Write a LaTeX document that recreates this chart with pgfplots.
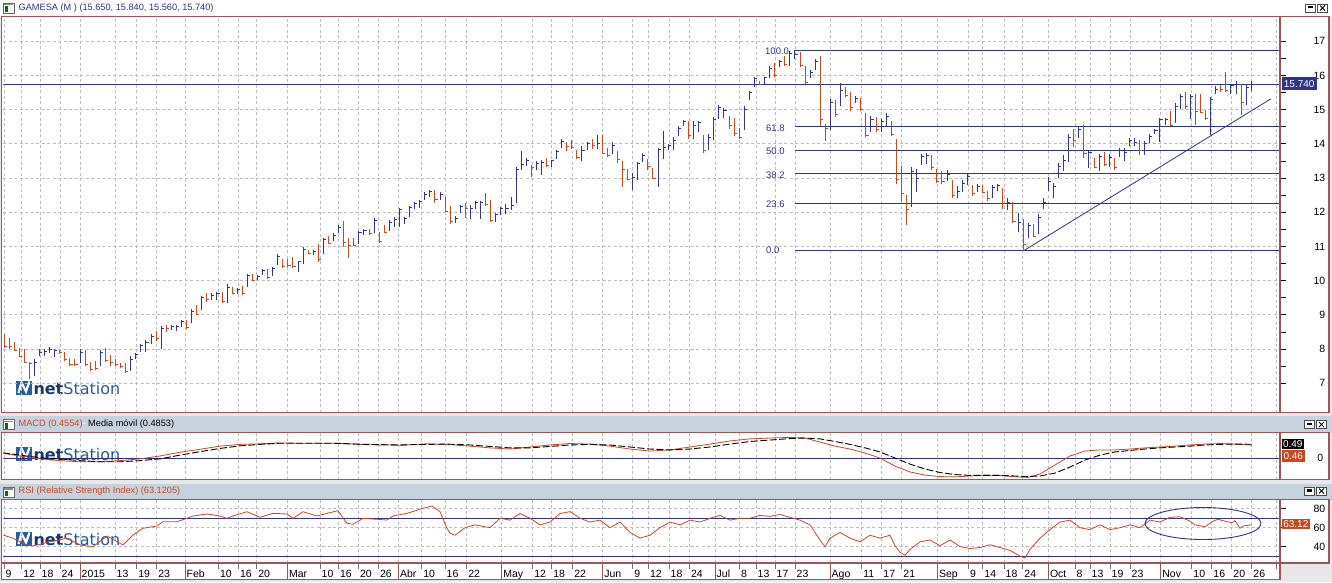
\documentclass[border=0pt]{standalone}
\usepackage{fontspec}
\setmainfont{Liberation Sans}
\newfontfamily\logofont{DejaVu Sans}
\usepackage{pgfplots}
\usepackage{pgfplotstable}
\usetikzlibrary{calc}
\pgfplotsset{compat=1.18}
\definecolor{navy}{RGB}{46,52,135}
\definecolor{barblue}{RGB}{48,56,140}
\definecolor{barred}{RGB}{208,70,28}
\definecolor{framec}{RGB}{160,84,84}
\definecolor{gridc}{RGB}{190,190,190}
\definecolor{titlebg}{RGB}{198,210,222}
\definecolor{logoblue}{RGB}{38,92,160}
\definecolor{logodark}{RGB}{22,56,112}
\definecolor{bgc}{RGB}{232,232,232}

\pgfdeclareplotmark{ctick}{\pgfpathmoveto{\pgfqpoint{0pt}{0pt}}\pgfpathlineto{\pgfqpoint{2.6pt}{0pt}}\pgfusepathqstroke}

\pgfplotstableread{
i o h l c
0 8.42 8.44 8.03 8.07
1 8.30 8.32 8.00 8.07
2 8.20 8.21 7.94 7.96
3 8.02 8.03 7.77 7.78
4 7.98 8.00 7.60 7.62
5 7.60 7.63 7.13 7.57
6 7.30 7.72 7.21 7.60
7 7.82 7.99 7.79 7.91
8 7.85 8.00 7.81 7.92
9 7.92 8.06 7.89 7.98
10 7.80 7.99 7.76 7.95
11 7.95 7.96 7.87 7.90
12 7.90 7.92 7.65 7.70
13 7.72 7.74 7.52 7.55
14 7.70 7.72 7.50 7.55
15 7.65 7.99 7.60 7.90
16 7.95 7.96 7.50 7.55
17 7.60 7.62 7.36 7.40
18 7.62 7.65 7.38 7.42
19 7.56 7.96 7.52 7.90
20 8.00 8.03 7.62 7.68
21 7.82 7.84 7.52 7.60
22 7.68 7.70 7.52 7.56
23 7.58 7.60 7.45 7.48
24 7.55 7.58 7.31 7.35
25 7.40 7.79 7.36 7.70
26 7.75 7.89 7.70 7.85
27 7.95 8.15 7.91 8.10
28 7.95 8.26 7.92 8.18
29 8.20 8.45 8.16 8.38
30 8.52 8.54 8.25 8.32
31 8.05 8.68 8.00 8.60
32 8.68 8.70 8.49 8.60
33 8.58 8.70 8.55 8.65
34 8.55 8.69 8.52 8.65
35 8.67 8.85 8.64 8.80
36 8.82 8.85 8.58 8.62
37 8.80 9.17 8.76 9.10
38 9.27 9.29 9.00 9.02
39 9.15 9.55 9.13 9.50
40 9.62 9.65 9.39 9.45
41 9.45 9.63 9.43 9.58
42 9.50 9.68 9.45 9.62
43 9.65 9.68 9.34 9.40
44 9.38 9.90 9.34 9.80
45 9.80 9.82 9.60 9.63
46 9.62 9.80 9.60 9.75
47 9.82 9.84 9.58 9.62
48 9.85 10.20 9.82 10.15
49 10.18 10.20 9.99 10.02
50 10.03 10.18 10.01 10.12
51 10.18 10.35 10.16 10.30
52 10.33 10.35 10.04 10.10
53 10.15 10.40 10.13 10.35
54 10.50 10.79 10.45 10.70
55 10.60 10.62 10.37 10.42
56 10.62 10.64 10.40 10.45
57 10.67 10.69 10.37 10.42
58 10.30 10.59 10.26 10.55
59 10.52 10.98 10.48 10.90
60 10.88 10.90 10.77 10.80
61 10.76 10.90 10.74 10.85
62 11.00 11.06 10.55 10.62
63 10.85 11.24 10.79 11.20
64 11.28 11.30 11.07 11.08
65 11.20 11.38 11.17 11.33
66 11.40 11.63 11.38 11.55
67 11.70 11.75 10.99 11.12
68 11.24 11.26 10.67 11.03
69 11.24 11.26 11.00 11.02
70 11.10 11.45 11.07 11.40
71 11.36 11.51 11.33 11.48
72 11.50 11.51 11.35 11.38
73 11.45 11.82 11.40 11.75
74 11.40 11.42 11.10 11.15
75 11.60 11.62 11.40 11.42
76 11.50 11.77 11.46 11.70
77 11.60 11.85 11.58 11.80
78 11.62 12.14 11.58 12.08
79 11.70 11.87 11.66 11.82
80 11.90 12.19 11.87 12.13
81 12.12 12.30 12.09 12.25
82 12.15 12.36 12.12 12.32
83 12.40 12.58 12.36 12.52
84 12.47 12.66 12.44 12.60
85 12.62 12.64 12.26 12.38
86 12.40 12.58 12.36 12.52
87 12.44 12.46 12.02 12.03
88 12.15 12.17 11.66 11.72
89 11.72 11.89 11.70 11.82
90 12.00 12.22 11.99 12.18
91 12.24 12.26 11.82 12.10
92 11.85 12.22 11.80 12.10
93 12.12 12.34 12.09 12.28
94 11.85 12.34 11.80 12.30
95 12.54 12.56 12.19 12.22
96 12.34 12.36 11.72 11.76
97 11.75 11.99 11.72 11.95
98 11.95 12.15 11.92 12.10
99 12.00 12.25 11.95 12.10
100 12.10 12.44 12.07 12.20
101 12.30 13.32 12.28 13.25
102 13.26 13.80 13.23 13.40
103 13.36 13.60 13.34 13.52
104 13.36 13.37 13.02 13.30
105 13.28 13.51 13.25 13.43
106 13.15 13.54 13.10 13.45
107 13.57 13.59 13.31 13.38
108 13.35 13.54 13.31 13.50
109 13.58 13.83 13.56 13.78
110 13.90 14.13 13.88 14.08
111 14.04 14.06 13.80 13.93
112 14.09 14.11 13.86 13.90
113 13.80 13.83 13.56 13.60
114 13.55 13.95 13.49 13.80
115 13.85 14.06 13.83 14.02
116 14.10 14.13 13.85 13.95
117 13.90 14.27 13.86 14.00
118 14.20 14.25 13.71 13.73
119 13.86 13.88 13.62 13.65
120 13.75 14.06 13.71 13.95
121 13.76 13.78 13.44 13.55
122 13.48 13.51 12.75 13.25
123 13.24 13.26 12.93 12.96
124 12.70 13.15 12.66 13.02
125 12.97 13.47 12.93 13.42
126 13.48 13.74 13.46 13.65
127 13.55 13.57 13.25 13.35
128 13.27 13.29 12.98 13.00
129 12.80 13.88 12.75 13.85
130 13.60 14.38 13.55 13.90
131 13.83 14.00 13.81 13.95
132 13.85 14.20 13.81 14.10
133 14.25 14.51 14.22 14.45
134 14.53 14.71 14.51 14.65
135 14.64 14.66 14.13 14.25
136 14.20 14.67 14.13 14.55
137 14.40 14.66 14.35 14.62
138 14.23 14.25 13.73 13.80
139 13.85 14.28 13.81 14.20
140 14.15 14.80 14.10 14.70
141 14.75 15.14 14.72 15.05
142 14.80 15.05 14.76 14.97
143 14.80 14.83 14.44 14.55
144 14.73 14.75 14.22 14.30
145 14.45 14.47 14.13 14.20
146 14.45 15.10 14.41 15.00
147 15.30 15.56 15.27 15.50
148 15.70 15.97 15.66 15.90
149 15.83 15.85 15.71 15.73
150 15.75 15.97 15.73 15.93
151 15.97 16.27 15.93 16.20
152 16.33 16.36 15.95 16.00
153 16.30 16.46 16.26 16.40
154 16.54 16.56 16.29 16.32
155 16.32 16.73 16.27 16.65
156 16.52 16.74 16.49 16.60
157 16.65 16.68 16.24 16.30
158 16.25 16.27 15.76 15.80
159 15.95 16.15 15.92 16.10
160 16.18 16.47 16.15 16.40
161 16.55 16.58 14.51 14.70
162 14.57 14.59 14.08 14.45
163 14.45 15.32 14.41 15.20
164 15.27 15.29 14.80 14.85
165 15.15 15.78 15.12 15.55
166 15.64 15.66 15.37 15.42
167 15.49 15.51 14.96 15.05
168 15.22 15.39 15.19 15.32
169 15.33 15.35 14.96 15.00
170 14.88 14.90 14.20 14.25
171 14.40 14.83 14.35 14.70
172 14.78 14.80 14.35 14.42
173 14.40 14.74 14.35 14.65
174 14.55 14.90 14.51 14.80
175 14.65 14.67 14.22 14.27
176 14.10 14.13 12.84 12.95
177 13.30 13.34 12.32 12.55
178 12.48 12.50 11.64 12.08
179 12.20 13.31 12.16 13.20
180 12.65 13.28 12.60 13.00
181 13.42 13.70 13.39 13.62
182 13.45 13.72 13.40 13.65
183 13.66 13.68 13.25 13.30
184 13.26 13.28 12.86 12.90
185 13.18 13.20 12.84 12.90
186 12.95 13.23 12.91 13.10
187 12.92 12.94 12.43 12.50
188 12.47 12.77 12.43 12.62
189 12.63 12.94 12.60 12.85
190 12.82 13.15 12.79 13.05
191 12.77 12.79 12.48 12.55
192 12.63 12.84 12.60 12.75
193 12.77 12.79 12.55 12.58
194 12.60 12.62 12.33 12.40
195 12.47 12.80 12.43 12.72
196 12.66 12.83 12.63 12.78
197 12.70 12.72 12.10 12.25
198 12.10 12.43 12.07 12.30
199 12.27 12.29 11.68 11.72
200 11.45 11.99 11.41 11.70
201 11.78 11.80 10.88 11.05
202 11.28 11.68 11.24 11.60
203 11.63 11.65 11.27 11.30
204 11.40 11.95 11.37 11.85
205 12.12 12.41 12.10 12.30
206 12.68 13.04 12.63 12.90
207 12.45 12.87 12.41 12.75
208 13.03 13.43 12.99 13.35
209 13.25 13.67 13.20 13.50
210 13.52 14.30 13.48 14.20
211 14.40 14.43 13.91 14.10
212 14.22 14.50 14.18 14.42
213 14.52 14.54 13.60 13.73
214 13.35 13.82 13.30 13.75
215 13.58 13.60 13.30 13.32
216 13.25 13.69 13.21 13.62
217 13.73 13.75 13.35 13.40
218 13.35 13.69 13.31 13.60
219 13.58 13.60 13.23 13.30
220 13.65 13.89 13.62 13.80
221 13.55 13.89 13.50 13.75
222 13.95 14.16 13.93 14.10
223 13.97 14.16 13.94 14.05
224 14.09 14.11 13.67 13.80
225 13.70 14.08 13.67 14.00
226 14.06 14.30 14.03 14.22
227 14.30 14.45 14.28 14.40
228 14.10 14.77 14.06 14.70
229 14.57 14.77 14.54 14.70
230 14.94 14.96 14.52 14.55
231 14.65 15.19 14.61 15.10
232 15.08 15.47 15.03 15.40
233 15.51 15.53 15.01 15.10
234 14.78 15.45 14.72 15.40
235 15.43 15.45 14.56 14.95
236 15.43 15.45 14.90 14.92
237 14.98 15.00 14.69 14.75
238 14.30 15.37 14.25 15.30
239 15.50 15.68 15.47 15.60
240 15.69 15.71 15.51 15.60
241 16.05 16.10 15.51 15.55
242 15.48 15.74 15.45 15.70
243 15.50 15.85 15.47 15.75
244 15.72 15.74 14.85 15.20
245 15.20 15.71 15.15 15.65
246 15.65 15.84 15.56 15.74
}\bars

\pgfplotstableread{
x m
3 0.17
20 0.08
40 -0.02
60 -0.08
80 -0.12
100 -0.12
120 -0.08
140 -0.02
160 0.08
180 0.21
200 0.31
220 0.42
240 0.48
260 0.50
280 0.53
300 0.52
333 0.52
367 0.47
400 0.45
427 0.50
447 0.48
470 0.42
490 0.36
510 0.32
530 0.39
550 0.46
570 0.51
590 0.49
610 0.42
630 0.32
650 0.25
670 0.29
690 0.39
710 0.49
730 0.60
750 0.67
770 0.70
790 0.72
805 0.70
820 0.56
835 0.42
850 0.32
865 0.18
880 0.01
895 -0.27
910 -0.47
925 -0.58
940 -0.63
955 -0.64
970 -0.61
985 -0.58
1000 -0.59
1015 -0.64
1028 -0.66
1040 -0.54
1055 -0.23
1070 0.08
1085 0.25
1100 0.29
1115 0.29
1130 0.32
1145 0.36
1160 0.39
1175 0.42
1190 0.46
1205 0.49
1220 0.51
1235 0.49
1252 0.455
}\macd

\pgfplotstableread{
x s
3 0.19
20 0.11
40 0.02
60 -0.02
80 -0.08
100 -0.12
120 -0.12
140 -0.08
160 -0.02
180 0.11
200 0.23
220 0.34
240 0.43
260 0.48
280 0.52
300 0.52
333 0.52
367 0.48
400 0.46
427 0.48
447 0.49
470 0.46
490 0.41
510 0.36
530 0.36
550 0.41
570 0.46
590 0.48
610 0.46
630 0.39
650 0.32
670 0.29
690 0.32
710 0.39
730 0.49
750 0.58
770 0.63
790 0.68
805 0.70
820 0.67
835 0.58
850 0.48
865 0.36
880 0.22
895 0.01
910 -0.20
925 -0.37
940 -0.49
955 -0.56
970 -0.59
985 -0.59
1000 -0.59
1015 -0.61
1028 -0.63
1040 -0.61
1055 -0.51
1070 -0.30
1085 -0.06
1100 0.11
1115 0.22
1130 0.27
1145 0.32
1160 0.36
1175 0.39
1190 0.42
1205 0.46
1220 0.48
1235 0.49
1252 0.485
}\signal

\pgfplotstableread{
x r
3 52.3
13 48.8
27 41.7
33 40.6
50 45.2
67 48.8
80 41.7
93 39.9
107 51.2
123 41.7
133 52.3
143 59.4
157 61.8
163 66.4
177 66.4
187 69.9
193 72.4
207 74.5
220 72.4
227 69.9
233 72.4
247 76.9
260 71.0
273 75.2
287 74.5
293 69.9
303 76.9
317 72.4
327 75.2
338 78.0
347 64.7
353 63.6
363 69.9
377 68.9
387 68.1
393 72.4
407 75.2
423 80.5
432 83.0
440 76.9
447 59.4
450 54.1
455 52
465 60
475 63
490 60
500 70
510 68
520 75
530 70
540 63
550 66
560 75
570 77
580 70
590 66
600 68
610 60
620 66
630 55
640 49
650 52
660 60
670 66
680 63
690 68
700 66
710 70
720 73
730 68
740 70
750 70
760 73
770 72
780 74
790 71
800 68
810 63
820 47
825 40
830 49
840 55
850 49
860 45
870 52
880 49
890 52
895 41
900 34
905 31
910 37
915 41
920 45
930 47
940 41
950 47
960 40
970 38
980 39
990 42
1000 39
1010 36
1020 30
1025 28
1030 37
1040 49
1050 58
1060 66
1070 68
1080 60
1090 58
1100 63
1110 58
1120 60
1130 63
1140 60
1150 68
1160 66
1170 71
1180 71.6
1190 67
1195 63
1205 61
1212 66.4
1218 68.9
1227 66.4
1232 65.3
1235 67.4
1240 59.4
1243 61.8
1252 63.1
}\rsi

\pgfplotsset{
  panelbase/.style={
    scale only axis, width=1276.7pt, xmin=3.3, xmax=1280,
    anchor=south west,
    axis line style={draw=none},
    xtick={4,21.7,40,60,80,115,136.7,156.7,185,218.3,238.3,256.7,287.3,320,338.3,358.3,378.3,398.3,421.7,445,466.7,501.7,532.7,551.7,572.7,602.7,632.7,648.3,669,689.3,715,739.3,756,775,795,830,861.7,881.7,901.7,937.3,968.3,982.7,1004,1022.7,1048.3,1075,1090,1110,1130,1160.7,1191.7,1211.7,1231.7,1251.7,1276.7},
    xmajorgrids,
    grid style={gridc, line width=0.8pt, dash pattern=on 3pt off 2.5pt},
    tick align=outside, major tick length=6pt, minor tick length=6pt,
    ytick pos=right, yticklabel pos=right, xtick pos=left,
    y tick style={black, line width=0.8pt},
    yticklabel style={anchor=east, inner sep=0pt, xshift=39.5pt, font=\fontsize{10.5}{12}\selectfont},
    /pgf/number format/assume math mode=true,
    clip=true,
  },
  barsstyle/.style={draw=none, mark=none, forget plot,
    error bars/.cd, y dir=plus, y explicit, error mark=none,
    error bar style={#1, line width=1pt}},
}

\begin{document}
\begin{tikzpicture}[x=1pt, y=1pt]
\path[use as bounding box] (0pt,0pt) rectangle (1332pt,582pt);
% backgrounds
\fill[bgc] (0pt,0pt) rectangle (1332pt,582pt);
\fill[white] (0pt,565.3pt) rectangle (1332pt,582pt);
\fill[white] (1.5pt,169.5pt) rectangle (1329pt,565.3pt);
\fill[titlebg] (0pt,149.5pt) rectangle (1332pt,166.5pt);
\fill[white] (1.5pt,102.5pt) rectangle (1329pt,149.5pt);
\fill[titlebg] (0pt,82.5pt) rectangle (1332pt,98pt);
\fill[white] (1.5pt,19pt) rectangle (1329pt,82.5pt);
\fill[white] (1.5pt,2.5pt) rectangle (1280pt,19pt);

% logos
\foreach \ly in {188pt,122pt,37pt}{
  \fill[logoblue] (16pt,\ly-1pt) rectangle (31.7pt,\ly+13.5pt);
  \draw[white, line width=2.2pt, line join=miter] (18.5pt,\ly+1pt) -- (21.5pt,\ly+11.5pt) -- (26pt,\ly+2.5pt) -- (29.5pt,\ly+12.5pt);
  \node[anchor=base west, inner sep=0pt] at (33.3pt,\ly) {\logofont\fontsize{16}{16}\selectfont\textcolor{logodark}{\textbf{net}}\textcolor{logoblue}{Station}};
}

% ---------- main price panel ----------
\begin{axis}[panelbase, at={(3.3pt,169.5pt)}, height=395.8pt,
  ymin=6.146, ymax=17.719, ytick={7,...,17}, minor y tick num=1,
  ymajorgrids, xticklabels={}, x tick style={draw=none}]
  \addplot[navy, line width=0.9pt] coordinates {(3.3,15.74) (1280,15.74)};
  \addplot[navy, line width=0.9pt] coordinates {(795,16.74) (1280,16.74)};
  \addplot[navy, line width=0.9pt] coordinates {(795,14.505) (1280,14.505)};
  \addplot[navy, line width=0.9pt] coordinates {(795,13.815) (1280,13.815)};
  \addplot[navy, line width=0.9pt] coordinates {(795,13.125) (1280,13.125)};
  \addplot[navy, line width=0.9pt] coordinates {(795,12.27) (1280,12.27)};
  \addplot[navy, line width=0.9pt] coordinates {(795,10.89) (1280,10.89)};
  \addplot[navy, line width=0.8pt] coordinates {(1023.3,10.87) (1271,15.32)};
  \node[anchor=west, inner sep=0pt, text=navy, font=\fontsize{9.5}{10}\selectfont] at (axis cs:765,16.72) {100.0};
  \node[anchor=west, inner sep=0pt, text=navy, font=\fontsize{9.5}{10}\selectfont] at (axis cs:766,14.46) {61.8};
  \node[anchor=west, inner sep=0pt, text=navy, font=\fontsize{9.5}{10}\selectfont] at (axis cs:766,13.78) {50.0};
  \node[anchor=west, inner sep=0pt, text=navy, font=\fontsize{9.5}{10}\selectfont] at (axis cs:766,13.09) {38.2};
  \node[anchor=west, inner sep=0pt, text=navy, font=\fontsize{9.5}{10}\selectfont] at (axis cs:766,12.24) {23.6};
  \node[anchor=west, inner sep=0pt, text=navy, font=\fontsize{9.5}{10}\selectfont] at (axis cs:766,10.88) {0.0};
  % up bars
  \addplot[restrict expr to domain={\thisrow{c}-\thisrow{o}}{0:100}, barsstyle=barblue]
    table[x expr=4+5.07*\thisrow{i}, y=l, y error expr=\thisrow{h}-\thisrow{l}] {\bars};
  \addplot[only marks, mark=ctick, mark options={draw=barblue, line width=1pt}, forget plot,
    restrict expr to domain={\thisrow{c}-\thisrow{o}}{0:100}]
    table[x expr=4+5.07*\thisrow{i}, y=c] {\bars};
  % down bars
  \addplot[restrict expr to domain={\thisrow{c}-\thisrow{o}}{-100:-0.00001}, barsstyle=barred]
    table[x expr=4+5.07*\thisrow{i}, y=l, y error expr=\thisrow{h}-\thisrow{l}] {\bars};
  \addplot[only marks, mark=ctick, mark options={draw=barred, line width=1pt}, forget plot,
    restrict expr to domain={\thisrow{c}-\thisrow{o}}{-100:-0.00001}]
    table[x expr=4+5.07*\thisrow{i}, y=c] {\bars};
\end{axis}

% ---------- MACD panel ----------
\begin{axis}[panelbase, at={(3.3pt,102.5pt)}, height=47pt,
  ymin=-0.731, ymax=0.890, ytick=\empty, xticklabels={}, x tick style={draw=none}]
  \addplot[navy, line width=0.9pt] coordinates {(3.3,0) (1280,0)};
  \addplot[barred, line width=0.8pt] table[x=x, y=m] {\macd};
  \addplot[black, line width=0.9pt, dash pattern=on 7pt off 2.5pt] table[x=x, y=s] {\signal};
\end{axis}

% ---------- RSI panel ----------
\begin{axis}[panelbase, at={(3.3pt,19pt)}, height=63.5pt,
  ymin=22.65, ymax=89.84, ytick={40,60,80}, ymajorgrids,
  x tick style={black!55, line width=0.8pt},
  xticklabels={9,12,18,24,2015,13,19,23,Feb,10,16,20,Mar,10,16,20,26,Abr,10,16,22,May,12,18,22,Jun,9,12,18,24,Jul,8,13,17,23,Ago,11,17,21,Sep,9,14,18,24,Oct,8,13,19,23,Nov,10,16,20,26,{}},
  xticklabel style={anchor=north west, inner sep=0pt, xshift=1.5pt, yshift=-1pt, font=\fontsize{10.5}{12}\selectfont}]
  \addplot[navy, line width=0.9pt] coordinates {(3.3,70) (1280,70)};
  \addplot[navy, line width=0.9pt] coordinates {(3.3,30) (1280,30)};
  \addplot[barred, line width=0.8pt] table[x=x, y=r] {\rsi};
\end{axis}

% RSI ellipse annotation
\draw[navy, line width=0.9pt] (1203pt,58.5pt) ellipse [x radius=58pt, y radius=16pt];

% frames
\draw[framec, line width=1.5pt] (1.5pt,169.5pt) rectangle (1329pt,565.3pt);
\draw[framec, line width=1.8pt] (1280pt,169.5pt) -- (1280pt,565.3pt);
\draw[framec, line width=1.5pt] (1.5pt,102.5pt) rectangle (1329pt,149.5pt);
\draw[framec, line width=1.8pt] (1280pt,102.5pt) -- (1280pt,149.5pt);
\draw[framec, line width=1.5pt] (1.5pt,19pt) rectangle (1329pt,82.5pt);
\draw[framec, line width=1.8pt] (1280pt,19pt) -- (1280pt,82.5pt);
\draw[framec, line width=1.5pt] (1.5pt,2.5pt) rectangle (1280pt,19pt);
\foreach \mx in {80pt,185pt,287.3pt,398.3pt,501.7pt,602.7pt,715pt,830pt,937.3pt,1048.3pt,1160.7pt}{
  \draw[framec, line width=1pt] (\mx,2.5pt) -- (\mx,19pt);
}

% title bars
\newcommand{\ticon}[2]{%
  \fill[white] (#1pt,#2pt) rectangle ++(11pt,10pt);
  \draw[black!60, line width=0.6pt] (#1pt,#2pt) rectangle ++(11pt,10pt);
  \fill[black!45] ($(#1pt,#2pt)+(1pt,7.5pt)$) rectangle ++(9pt,1.5pt);
  \fill[green!45!black] ($(#1pt,#2pt)+(1.5pt,1pt)$) rectangle ++(3pt,5.5pt);
}
\newcommand{\tbuttons}[2]{%
  \draw[black!70, fill=white, line width=0.6pt] (#1pt,#2pt) rectangle ++(10pt,8pt);
  \fill[black] ($(#1pt,#2pt)+(2.5pt,3.5pt)$) rectangle ++(5pt,2.5pt);
  \draw[black!70, fill=white, line width=0.6pt] ($(#1pt,#2pt)+(12.5pt,0pt)$) rectangle ++(10pt,8pt);
  \draw[black, line width=0.8pt] ($(#1pt,#2pt)+(15pt,1.5pt)$) -- ++(5pt,5pt) ($(#1pt,#2pt)+(15pt,6.5pt)$) -- ++(5pt,-5pt);
}
\ticon{3}{569}
\tbuttons{1305}{570}
\node[anchor=west, inner sep=0pt, text=navy, font=\fontsize{9.2}{10}\selectfont] at (18.5pt,574pt) {GAMESA (M ) (15.650, 15.840, 15.560, 15.740)};
\ticon{3}{152.5}
\tbuttons{1304}{153.5}
\node[anchor=west, inner sep=0pt, font=\fontsize{9.2}{10}\selectfont] at (18.5pt,158pt) {\textcolor{barred}{MACD (0.4554)}\textcolor{white}{ - }\textcolor{black}{Media móvil (0.4853)}};
\ticon{3}{85}
\tbuttons{1304}{87}
\node[anchor=west, inner sep=0pt, text=barred, font=\fontsize{9.2}{10}\selectfont] at (18.5pt,90.5pt) {RSI (Relative Strength Index) (63.1205)};

% value boxes at right
\fill[navy] (1281.7pt,492pt) rectangle (1316.7pt,504.7pt);
\node[text=white, inner sep=0pt, font=\fontsize{10}{10}\selectfont] at (1299.2pt,498.3pt) {15.740};
\fill[black] (1281.7pt,133pt) rectangle (1304pt,142.7pt);
\node[text=white, inner sep=0pt, font=\fontsize{10}{10}\selectfont] at (1292.8pt,137.8pt) {0.49};
\fill[barred] (1281.7pt,120pt) rectangle (1305pt,132pt);
\node[text=white, inner sep=0pt, font=\fontsize{10}{10}\selectfont] at (1293.3pt,126pt) {0.46};
\node[anchor=east, inner sep=0pt, font=\fontsize{10.5}{12}\selectfont] at (1323.5pt,123.7pt) {0};
\fill[barred] (1281.7pt,52.7pt) rectangle (1310pt,62.7pt);
\node[text=white, inner sep=0pt, font=\fontsize{10}{10}\selectfont] at (1295.8pt,57.7pt) {63.12};
\end{tikzpicture}
\end{document}
